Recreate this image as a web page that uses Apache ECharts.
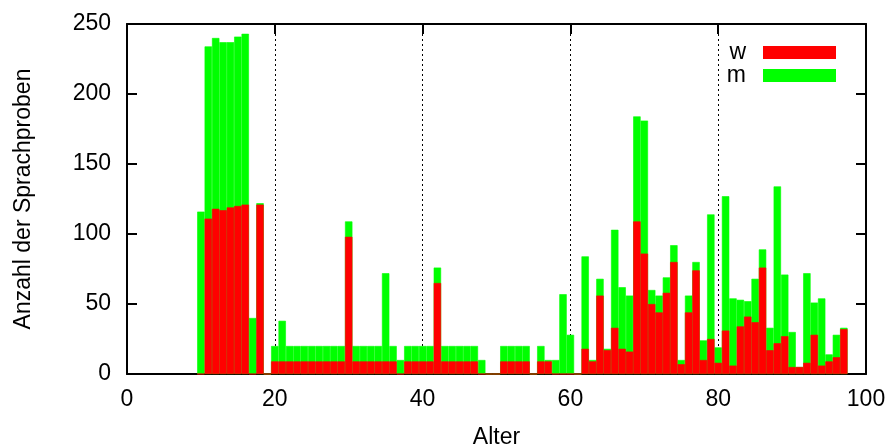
<!DOCTYPE html>
<html>
<head>
<meta charset="utf-8">
<script src="https://cdn.jsdelivr.net/npm/echarts@6/dist/echarts.min.js"></script>
<style>
  html, body { margin: 0; padding: 0; background: #fff; }
  #chart { width: 893px; height: 446px; }
</style>
</head>
<body>
<div id="chart"></div>
<script>
// Ages (years) and number of speech samples per age, split by sex
const ages = [
  10, 11, 12, 13, 14, 15, 16, 17, 18, 19,
  20, 21, 22, 23, 24, 25, 26, 27, 28, 29,
  30, 31, 32, 33, 34, 35, 36, 37, 38, 39,
  40, 41, 42, 43, 44, 45, 46, 47, 48, 49,
  50, 51, 52, 53, 54, 55, 56, 57, 58, 59,
  60, 61, 62, 63, 64, 65, 66, 67, 68, 69,
  70, 71, 72, 73, 74, 75, 76, 77, 78, 79,
  80, 81, 82, 83, 84, 85, 86, 87, 88, 89,
  90, 91, 92, 93, 94, 95, 96, 97
];
// female speakers
const w = [
  0, 111, 118, 117, 119, 120, 121, 0, 121, 0,
  9, 9, 9, 9, 9, 9, 9, 9, 9, 9,
  98, 9, 9, 9, 9, 9, 9, 0, 9, 9,
  9, 9, 65, 9, 9, 9, 9, 9, 0, 0,
  0, 9, 9, 9, 9, 0, 9, 9, 0, 0,
  0, 0, 18, 9, 56, 17, 33, 18, 16, 109,
  86, 50, 44, 58, 80, 7, 44, 74, 10, 25,
  8, 31, 6, 34, 41, 37, 76, 17, 22, 27,
  5, 5, 8, 28, 6, 9, 12, 32
];
// male speakers
const m = [
  116, 123, 122, 120, 118, 121, 122, 40, 1, 0,
  11, 29, 11, 11, 11, 11, 11, 11, 11, 11,
  11, 11, 11, 11, 11, 63, 11, 10, 11, 11,
  11, 11, 11, 11, 11, 11, 11, 11, 10, 0,
  0, 11, 11, 11, 11, 0, 11, 1, 10, 57,
  28, 0, 66, 1, 12, 1, 70, 44, 40, 75,
  95, 10, 12, 11, 12, 3, 12, 6, 14, 89,
  11, 96, 48, 19, 11, 31, 13, 16, 112, 44,
  25, 0, 64, 23, 48, 5, 16, 1
];
const xTicks = { min: 0, max: 100, step: 20 };
const yTicks = { min: 0, max: 250, step: 50 };

// stacked histogram: the green column spans w + m, the red column w sits at its base
const totals = ages.map((a, i) => w[i] + m[i]);

const FONT = 'Liberation Sans, Arial, Helvetica, sans-serif';
const FS = 23;
const RED = '#ff0000';
const GREEN = '#00ff00';

const chart = echarts.init(document.getElementById('chart'), null, { renderer: 'canvas' });

const frameLine = { show: true, onZero: false, lineStyle: { color: '#000', width: 2 } };
const tick = { show: true, inside: true, length: 10, lineStyle: { color: '#000', width: 2 } };

chart.setOption({
  animation: false,
  backgroundColor: '#fff',
  grid: { left: 127, right: 27, top: 24, bottom: 72, containLabel: false, outerBoundsMode: 'none' },
  legend: {
    data: ['w', 'm'],
    orient: 'vertical',
    right: 52,
    top: 36,
    align: 'right',
    itemWidth: 73,
    itemHeight: 13,
    itemGap: 0,
    icon: 'rect',
    itemStyle: { borderWidth: 0 },
    textStyle: { fontFamily: FONT, fontSize: FS, color: '#000', padding: [0, 12, 0, 0] }
  },
  xAxis: [
    {
      type: 'value',
      min: xTicks.min, max: xTicks.max, interval: xTicks.step,
      position: 'bottom',
      name: 'Alter',
      nameLocation: 'middle',
      nameGap: 52,
      nameTextStyle: { fontFamily: FONT, fontSize: FS, color: '#000' },
      axisLine: frameLine,
      axisTick: tick,
      axisLabel: { fontFamily: FONT, fontSize: FS, color: '#000', margin: 14 },
      splitLine: {
        show: true, showMinLine: false, showMaxLine: false,
        lineStyle: { color: '#000', width: 1, type: [2, 3] }
      }
    },
    {
      type: 'value',
      min: xTicks.min, max: xTicks.max, interval: xTicks.step,
      position: 'top',
      axisLine: frameLine,
      axisTick: tick,
      axisLabel: { show: false },
      splitLine: { show: false }
    }
  ],
  yAxis: [
    {
      type: 'value',
      min: yTicks.min, max: yTicks.max, interval: yTicks.step,
      position: 'left',
      name: 'Anzahl der Sprachproben',
      nameLocation: 'middle',
      nameGap: 92,
      nameTextStyle: { fontFamily: FONT, fontSize: FS, color: '#000' },
      axisLine: frameLine,
      axisTick: tick,
      axisLabel: { fontFamily: FONT, fontSize: FS, color: '#000', margin: 16 },
      splitLine: { show: false }
    },
    {
      type: 'value',
      min: yTicks.min, max: yTicks.max, interval: yTicks.step,
      position: 'right',
      axisLine: frameLine,
      axisTick: tick,
      axisLabel: { show: false },
      splitLine: { show: false }
    }
  ],
  series: [
    {
      name: 'm',
      type: 'bar',
      barWidth: '100%',
      barGap: '-100%',
      itemStyle: { color: GREEN, borderColor: GREEN, borderWidth: 0.6 },
      data: ages.map((a, i) => [a, totals[i]])
    },
    {
      name: 'w',
      type: 'bar',
      barWidth: '100%',
      barGap: '-100%',
      itemStyle: { color: RED, borderColor: RED, borderWidth: 0.6 },
      data: ages.map((a, i) => [a, w[i]])
    }
  ]
});
</script>
</body>
</html>
